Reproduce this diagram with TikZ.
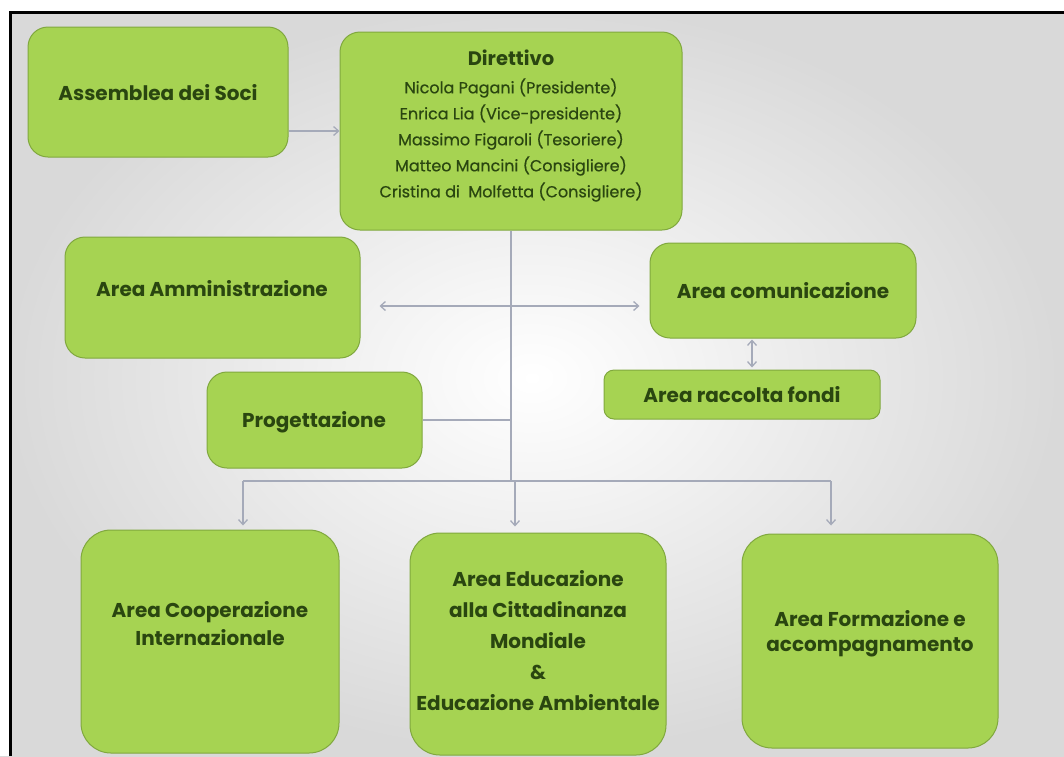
\documentclass[tikz,border=0pt]{standalone}
\usepackage{fontspec}
\setmainfont{Poppins}
\newfontfamily\namesfont[FakeBold=0.6]{Poppins}
\usetikzlibrary{arrows.meta}
\definecolor{boxgreen}{RGB}{166,211,82}
\definecolor{boxedge}{RGB}{128,168,62}
\definecolor{txtgreen}{RGB}{42,70,16}
\definecolor{connc}{RGB}{165,170,185}
\begin{document}
\begin{tikzpicture}[x=1pt,y=-1pt,
 box/.style={draw=boxedge, line width=1pt, fill=boxgreen, rounded corners=20pt, inner sep=0pt},
 bigbox/.style={box, rounded corners=30pt},
 title/.style={text=txtgreen, align=center, font=\bfseries\fontsize{20}{28}\selectfont, inner sep=0pt},
 names/.style={text=txtgreen, align=center, font=\namesfont\fontsize{16}{26}\selectfont, inner sep=0pt},
 connector/.style={draw=connc, line width=1.3pt},
 tipend/.style={-{Straight Barb[length=5pt,width=9pt]}},
 tipboth/.style={{Straight Barb[length=5pt,width=9pt]}-{Straight Barb[length=5pt,width=9pt]}}
]
\useasboundingbox (0,0) rectangle (1064,756);
\shade[inner color=white, outer color=black!15] (0,0) rectangle (1064,756);
\fill[white] (0,0) rectangle (1064,11);
\fill[white] (0,0) rectangle (9,756);
\draw[line width=3pt] (10.5,756) -- (10.5,12.5) -- (1064,12.5);

% boxes
\node[box, minimum width=260pt, minimum height=130pt] (asm) at (158,92) {};
\node[box, minimum width=342pt, minimum height=198pt] (dir) at (511,131) {};
\node[box, minimum width=295pt, minimum height=121pt] (amm) at (212.5,297.5) {};
\node[box, minimum width=266pt, minimum height=95pt] (com) at (783,290.5) {};
\node[box, rounded corners=10pt, minimum width=276pt, minimum height=49pt] (rac) at (742,394.5) {};
\node[box, minimum width=215pt, minimum height=96pt] (prog) at (314.5,420) {};
\node[bigbox, minimum width=258pt, minimum height=223pt] (coop) at (210,641.5) {};
\node[bigbox, minimum width=256pt, minimum height=222pt] (edu) at (538,644) {};
\node[bigbox, minimum width=256pt, minimum height=214pt] (form) at (870,641) {};

% texts
\node[title] (asm-t) at (158,93) {Assemblea dei Soci};
\node[title, font=\bfseries\fontsize{19.5}{28}\selectfont] (dir-t) at (511,58) {Direttivo};
\node[names] (dir-n) at (511,140) {Nicola Pagani (Presidente)\\Enrica Lia (Vice-presidente)\\Massimo Figaroli (Tesoriere)\\Matteo Mancini (Consigliere)\\Cristina di\ \ Molfetta (Consigliere)};
\node[title] (amm-t) at (212,289) {Area Amministrazione};
\node[title] (com-t) at (783,291) {Area comunicazione};
\node[title] (rac-t) at (742,395) {Area raccolta fondi};
\node[title] (prog-t) at (314,422) {Progettazione};
\node[title, font=\bfseries\fontsize{20}{28}\selectfont] (coop-t) at (210,624) {Area Cooperazione\\Internazionale};
\node[title, font=\bfseries\fontsize{20}{31}\selectfont] (edu-t) at (538,641) {Area Educazione\\alla Cittadinanza\\Mondiale\\\&\\Educazione Ambientale};
\node[title, font=\bfseries\fontsize{20}{25}\selectfont] (form-t) at (870,634) {Area Formazione e\\accompagnamento};

% helper coordinates
\coordinate (yA) at (0,131);
\coordinate (yH) at (0,306);
\coordinate (xV) at (752,0);
\coordinate (junc) at (511,481);
\coordinate (bl) at (243,481);
\coordinate (bm) at (515,481);
\coordinate (br) at (831,481);

% connectors
\draw[connector, tipend] (asm.east |- yA) -- (dir.west |- yA);
\draw[connector] (dir.south) -- (junc);
\draw[connector, tipboth, shorten <=19pt, shorten >=10pt] (amm.east |- yH) -- (com.west |- yH);
\draw[connector, tipboth, shorten <=1pt, shorten >=2pt] (com.south -| xV) -- (rac.north -| xV);
\draw[connector] (prog.east) -- (prog.east -| junc);
\draw[connector] (bl) -- (br);
\draw[connector, tipend, shorten >=4pt] (bl) -- (coop.north -| bl);
\draw[connector, tipend, shorten >=6pt] (bm) -- (edu.north -| bm);
\draw[connector, tipend, shorten >=8pt] (br) -- (form.north -| br);
\end{tikzpicture}
\end{document}
